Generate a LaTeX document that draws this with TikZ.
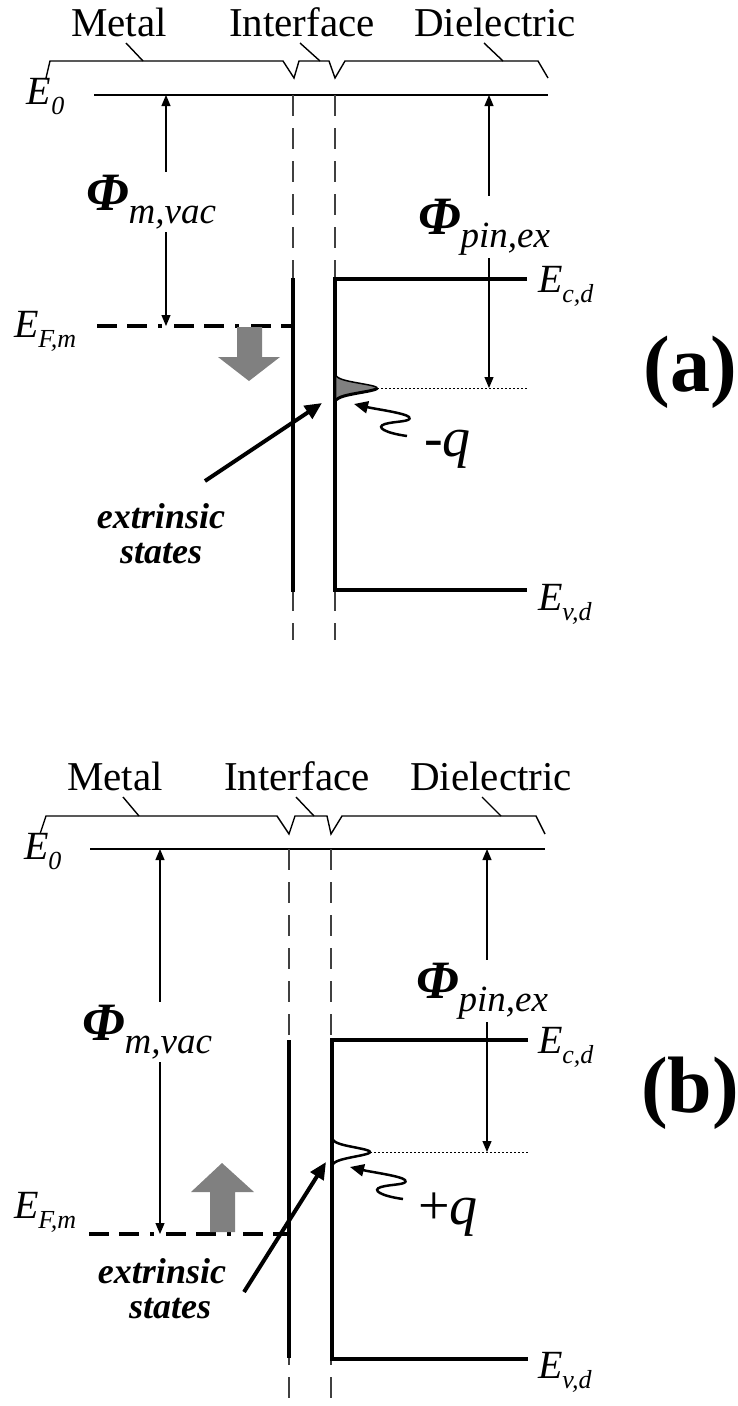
\documentclass[tikz,border=0pt]{standalone}
\usepackage{fontspec}
\setmainfont{Liberation Serif}
\usetikzlibrary{arrows.meta}
\newcommand\Elab[1]{{\fontsize{40}{40}\selectfont\itshape E}\raisebox{-10pt}{\fontsize{26}{26}\selectfont\itshape #1}}
\newcommand\Philab[1]{{\fontsize{54}{54}\selectfont\bfseries\itshape Φ}\raisebox{-13pt}{\fontsize{37}{37}\selectfont\itshape #1}}
\begin{document}
\begin{tikzpicture}[x=1pt,y=-1pt,
  every node/.style={inner sep=0pt, outer sep=0pt},
  lvl/.style={line width=4pt},
  vac/.style={line width=2.5pt},
  iface/.style={line width=1.5pt, black!75, dash pattern=on 21pt off 12pt},
  bracepath/.style={line width=1.4pt, line join=miter},
  fermi/.style={line width=3.5pt, dash pattern=on 20pt off 10pt on 20pt off 11pt on 4pt off 12pt},
  dimarrow/.style={line width=1.2pt, {Triangle[length=11pt,width=9pt]}-{Triangle[length=11pt,width=9pt]}},
  bigarrow/.style={line width=4pt, -{Triangle[length=17pt,width=15pt]}},
  wavyarrow/.style={line width=2.5pt, -{Triangle[length=14pt,width=12pt]}},
  blockarrow/.style={fill=gray},
  dotline/.style={line width=1pt, dash pattern=on 2pt off 2pt},
  region/.style={font=\fontsize{41}{41}\selectfont, anchor=base},
  elabel/.style={anchor=base west},
  philabel/.style={anchor=base west, fill=white, inner ysep=3pt, inner xsep=2pt},
  charge/.style={anchor=base west, font=\fontsize{56}{56}\selectfont\itshape},
  states/.style={anchor=base, font=\fontsize{36}{36}\selectfont\bfseries\itshape},
  panel/.style={font=\fontsize{80}{80}\selectfont\bfseries}
]
\useasboundingbox (0,0) rectangle (737,1406);

%%%%%%%%%%%%%%%% panel (a)
\node[region] (ametal) at (119,36) {Metal};
\node[region] (aint) at (302,36) {Interface};
\node[region] (adiel) at (495,36) {Dielectric};
\draw[bracepath] (46,78) -- (50,61) -- (283,61) -- (294,78) -- (299,61) -- (329,61) -- (335,78) -- (345,61) -- (538,61) -- (548,78);
\draw[bracepath] (143,61) -- (126,43);
\draw[bracepath] (320,61) -- (300,43);
\draw[bracepath] (503,61) -- (484,43);

\coordinate (ae0l) at (94,95);
\coordinate (ae0r) at (548,95);
\draw[vac] (ae0l) -- (ae0r);
\node[elabel] (ae0) at (27,104) {\Elab{0}};

\draw[iface] (293,95) -- (293,640);
\draw[iface] (335,95) -- (335,640);

\draw[lvl] (293,278) -- (293,592);
\draw[lvl] (527,279) -- (335,279) -- (335,590) -- (527,590);
\node[elabel] (aec) at (538,292) {\Elab{c,d}};
\node[elabel] (aev) at (538,610) {\Elab{v,d}};

\coordinate (aefl) at (97,326);
\coordinate (aefr) at (293,326);
\draw[fermi] (aefl) -- (aefr);
\node[elabel] (aef) at (14,337) {\Elab{F,m}};

% pinning level
\fill[gray] plot[domain=-12:12, samples=60, variable=\t] ({335+42*exp(-(\t*\t)/42)},{388+\t}) -- cycle;
\draw[line width=1.5pt] plot[domain=-12:0, samples=40, variable=\t] ({335+42*exp(-(\t*\t)/42)},{388+\t});
\draw[line width=3pt] plot[domain=0:12, samples=40, variable=\t] ({335+42*exp(-(\t*\t)/42)},{388+\t});
\coordinate (apin) at (377,388);
\coordinate (apinr) at (527,388);
\draw[dotline] (apin) -- (apinr);

\coordinate (aphim0) at (166,95);
\coordinate (aphim1) at (166,326);
\draw[dimarrow] (aphim0) -- (aphim1);
\node[philabel] (aphim) at (84,210) {\Philab{m,vac}};
\coordinate (aphip0) at (489,95);
\coordinate (aphip1) at (489,388);
\draw[dimarrow] (aphip0) -- (aphip1);
\node[philabel] (aphip) at (416,234) {\Philab{pin,ex}};

\fill[blockarrow] (237,327) -- (262,327) -- (262,357) -- (280,357) -- (249,381) -- (218,357) -- (237,357) -- cycle;

\coordinate (aext0) at (205,481);
\coordinate (aext1) at (322,403);
\draw[bigarrow] (aext0) -- (aext1);
\node[states] (aext) at (161,528) {extrinsic};
\node[states] (asta) at (161,563) {states};

\begin{scope}[shift={(354,404)}]
\draw[wavyarrow] (53,32) .. controls (31,29) and (21,23) .. (31,20) .. controls (41,17) and (59,18) .. (55,13) .. controls (51,9) and (21,5) .. (0,0);
\end{scope}
\node[charge] (aq) at (424,456) {-q};
\node[panel] (alab) at (690,372) {(a)};

%%%%%%%%%%%%%%%% panel (b)
\node[region] (bmetal) at (115,790) {Metal};
\node[region] (bint) at (297,790) {Interface};
\node[region] (bdiel) at (491,790) {Dielectric};
\draw[bracepath] (40,834) -- (46,816) -- (277,816) -- (289,834) -- (295,816) -- (327,816) -- (331,834) -- (342,816) -- (536,816) -- (545,834);
\draw[bracepath] (139,816) -- (123,797);
\draw[bracepath] (314,816) -- (296,797);
\draw[bracepath] (501,816) -- (482,797);

\coordinate (be0l) at (90,849);
\coordinate (be0r) at (545,849);
\draw[vac] (be0l) -- (be0r);
\node[elabel] (be0) at (24,859) {\Elab{0}};

\draw[iface] (289,849) -- (289,1406);
\draw[iface] (331,849) -- (331,1406);

\draw[lvl] (289,1040) -- (289,1358);
\draw[lvl] (528,1040) -- (332,1040) -- (332,1359) -- (528,1359);
\node[elabel] (bec) at (538,1053) {\Elab{c,d}};
\node[elabel] (bev) at (538,1378) {\Elab{v,d}};

\coordinate (befl) at (89,1234);
\coordinate (befr) at (289,1234);
\draw[fermi] (befl) -- (befr);
\node[elabel] (bef) at (14,1218) {\Elab{F,m}};

\draw[line width=2.5pt] plot[domain=-12:12, samples=60, variable=\t] ({332+38*exp(-(\t*\t)/42)},{1152+\t});
\coordinate (bpin) at (370,1152);
\coordinate (bpinr) at (528,1152);
\draw[dotline] (bpin) -- (bpinr);

\coordinate (bphim0) at (160,849);
\coordinate (bphim1) at (160,1234);
\draw[dimarrow] (bphim0) -- (bphim1);
\node[philabel] (bphim) at (80,1040) {\Philab{m,vac}};
\coordinate (bphip0) at (487,849);
\coordinate (bphip1) at (487,1152);
\draw[dimarrow] (bphip0) -- (bphip1);
\node[philabel] (bphip) at (414,998) {\Philab{pin,ex}};

\fill[blockarrow] (210,1232) -- (235,1232) -- (235,1192) -- (254,1192) -- (222,1163) -- (191,1192) -- (210,1192) -- cycle;

\coordinate (bext0) at (244,1292);
\coordinate (bext1) at (326,1162);
\draw[bigarrow] (bext0) -- (bext1);
\node[states] (bext) at (162,1283) {extrinsic};
\node[states] (bsta) at (170,1318) {states};

\begin{scope}[shift={(350,1167)}]
\draw[wavyarrow] (53,32) .. controls (31,29) and (21,23) .. (31,20) .. controls (41,17) and (59,18) .. (55,13) .. controls (51,9) and (21,5) .. (0,0);
\end{scope}
\node[charge] (bq) at (418,1224) {{\upshape +}q};
\node[panel] (blab) at (690,1093) {(b)};
\end{tikzpicture}
\end{document}
